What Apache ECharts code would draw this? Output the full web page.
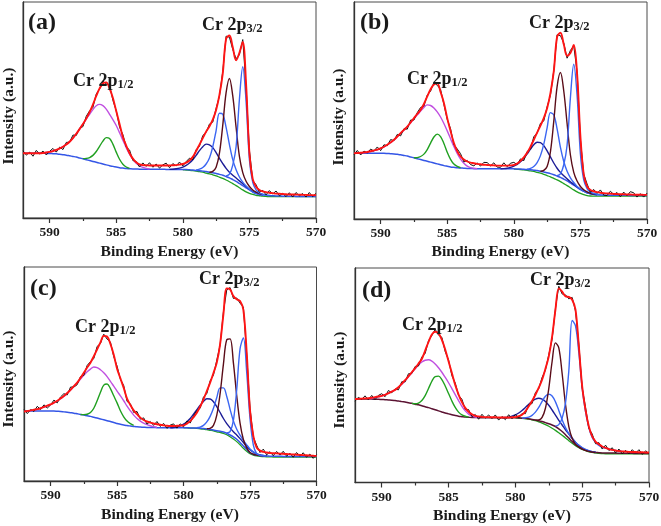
<!DOCTYPE html>
<html><head><meta charset="utf-8">
<script src="https://cdn.jsdelivr.net/npm/echarts@6/dist/echarts.min.js"></script>
<style>html,body{margin:0;padding:0;background:#fff}#c{width:661px;height:526px}</style>
</head><body><div id="c"></div>
<script>
const _ = null;
// Binding energy grid (eV), 592 -> 570, step 0.25
const energy = [
592,591.75,591.5,591.25, 591,590.75,590.5,590.25, 590,589.75,589.5,589.25,
589,588.75,588.5,588.25, 588,587.75,587.5,587.25, 587,586.75,586.5,586.25,
586,585.75,585.5,585.25, 585,584.75,584.5,584.25, 584,583.75,583.5,583.25,
583,582.75,582.5,582.25, 582,581.75,581.5,581.25, 581,580.75,580.5,580.25,
580,579.75,579.5,579.25, 579,578.75,578.5,578.25, 578,577.75,577.5,577.25,
577,576.75,576.5,576.25, 576,575.75,575.5,575.25, 575,574.75,574.5,574.25,
574,573.75,573.5,573.25, 573,572.75,572.5,572.25, 572,571.75,571.5,571.25,
571,570.75,570.5,570.25, 570];
const xTickValues = [570,575,580,585,590];
const xMinorTickValues = [572.5,577.5,582.5,587.5];

// ---------- Panel (a) ----------
const rawA = [
31.1,29.1,30.5,28.6, 31.3,29.6,31.0,29.2, 30.9,32.2,30.5,32.8, 31.7,35.0,35.1,38.4,
38.2,41.6,42.3,47.1, 49.6,51.2,57.4,59.7, 63.3,62.1,61.3,54.5, 49.7,42.1,38.6,32.9,
31.5,26.6,26.2,23.6, 25.5,23.9,25.6,23.5, 25.0,23.1,24.6,25.4, 23.3,25.2,24.1,25.9,
24.1,26.1,27.7,27.0, 31.6,33.2,38.2,39.6, 43.5,44.4,50.8,56.4, 67.9,84.2,83.7,78.0,
73.7,75.6,82.6,60.8, 31.4,17.4,15.4,11.9, 12.8,10.7,12.7,11.1, 12.5,10.3,11.4,9.9,
11.7,9.7,11.8,10.3, 11.3,9.7,11.8,9.9, 11.4];
const fitA = [
30.0,30.0,30.0,30.0, 30.0,30.0,30.1,30.3, 30.6,31.0,31.5,32.2, 33.0,34.0,35.3,37.0,
39.0,41.2,43.5,46.0, 49.0,52.5,56.5,60.0, 62.3,62.8,60.0,55.6, 49.5,43.5,37.5,33.5,
30.0,27.5,25.8,24.8, 24.5,24.4,24.3,24.3, 24.3,24.3,24.3,24.3, 24.3,24.4,24.5,24.7,
25.0,25.6,26.6,28.3, 31.0,34.0,37.0,40.0, 42.5,45.5,50.0,57.0, 67.0,83.0,84.5,79.0,
73.0,76.5,81.5,62.0, 30.0,18.0,14.5,13.0, 12.3,12.0,11.7,11.5, 11.3,11.2,11.1,11.0,
10.9,10.9,10.8,10.8, 10.7,10.7,10.6,10.6, 10.5];
const bgA = [
30.0,30.0,30.0,30.0, 30.0,30.0,30.0,29.9, 29.9,29.8,29.7,29.5, 29.3,29.1,28.8,28.5,
28.2,27.8,27.4,27.0, 26.6,26.2,25.8,25.4, 25.0,24.6,24.2,23.9, 23.6,23.3,23.1,22.9,
22.8,22.7,22.7,22.6, 22.6,22.6,22.6,22.6, 22.6,22.6,22.6,22.5, 22.5,22.5,22.5,22.4,
22.4,22.4,22.3,22.2, 22.0,21.9,21.7,21.5, 21.2,20.9,20.6,20.2, 19.8,19.2,18.6,17.8,
17.0,16.0,15.0,14.0, 13.0,12.2,11.5,11.1, 10.8,10.6,10.4,10.3, 10.2,10.2,10.1,10.1,
10.1,10.1,10.0,10.0, 10.0,10.0,10.0,10.0, 10.0];
const bg2A = [
_,_,_,_, _,_,_,_, _,_,_,_, _,_,_,_,
_,_,_,_, _,_,_,_, _,_,_,_, _,_,_,_,
_,_,_,_, _,_,_,_, _,_,_,_, _,_,_,_,
22.3,22.2,22.1,21.9, 21.7,21.5,21.2,20.8, 20.4,20.0,19.5,18.9, 18.3,17.6,16.8,15.9,
15.0,14.0,13.0,12.1, 11.4,10.9,10.5,10.3, 10.1,10.0,9.9,9.9, 9.9,9.9,9.9,9.9,
9.9,9.9,9.9,9.9, 9.9,9.9,9.9,9.9, 9.9];
const magA = [
_,_,_,_, 30.0,30.0,30.1,30.3, 30.6,31.0,31.5,32.2, 33.0,34.0,35.3,37.0,
39.0,41.2,43.5,45.8, 48.0,50.2,52.0,52.6, 52.0,50.4,48.0,45.5, 42.8,39.5,36.0,32.6,
29.6,27.2,25.4,24.2, 23.4,23.0,22.7,_, _,_,_,_, _,_,_,_,
_,_,_,_, _,_,_,_, _,_,_,_, _,_,_,_,
_,_,_,_, _,_,_,_, _,_,_,_, _,_,_,_,
_,_,_,_, _,_,_,_, _];
const greenA = [
_,_,_,_, _,_,_,_, _,_,_,_, _,_,_,_,
_,_,27.5,27.6, 28.0,29.0,30.8,33.2, 35.6,37.2,36.8,34.2, 30.5,27.2,24.9,23.6,
23.0,_,_,_, _,_,_,_, _,_,_,_, _,_,_,_,
_,_,_,_, _,_,_,_, _,_,_,_, _,_,_,_,
_,_,_,_, _,_,_,_, _,_,_,_, _,_,_,_,
_,_,_,_, _,_,_,_, _];
const navyA = [
_,_,_,_, _,_,_,_, _,_,_,_, _,_,_,_,
_,_,_,_, _,_,_,_, _,_,_,_, _,_,_,_,
_,_,_,_, _,_,_,_, _,_,_,_, 22.5,22.6,22.8,23.1,
23.6,24.4,25.5,27.0, 29.0,31.2,33.0,34.2, 33.9,32.6,30.3,27.6, 25.2,23.0,21.2,19.8,
18.5,17.2,15.9,14.6, 13.3,12.2,11.4,10.9, 10.6,_,_,_, _,_,_,_,
_,_,_,_, _,_,_,_, _];
const blueMidA = [
_,_,_,_, _,_,_,_, _,_,_,_, _,_,_,_,
_,_,_,_, _,_,_,_, _,_,_,_, _,_,_,_,
_,_,_,_, _,_,_,_, _,_,_,_, _,_,_,_,
_,_,_,_, 22.2,22.6,23.4,25.0, 27.8,33.0,40.5,48.5, 48.0,42.0,34.0,27.0,
22.3,19.0,16.6,14.8, 13.3,12.0,11.3,10.8, 10.5,_,_,_, _,_,_,_,
_,_,_,_, _,_,_,_, _];
const brownA = [
_,_,_,_, _,_,_,_, _,_,_,_, _,_,_,_,
_,_,_,_, _,_,_,_, _,_,_,_, _,_,_,_,
_,_,_,_, _,_,_,_, _,_,_,_, _,_,_,_,
_,_,_,_, _,_,_,_, 21.2,21.6,23.5,30.0, 43.0,58.0,64.6,56.5,
42.0,28.5,21.0,17.0, 14.6,13.0,12.0,11.3, 10.9,_,_,_, _,_,_,_,
_,_,_,_, _,_,_,_, _];
const blueRightA = [
_,_,_,_, _,_,_,_, _,_,_,_, _,_,_,_,
_,_,_,_, _,_,_,_, _,_,_,_, _,_,_,_,
_,_,_,_, _,_,_,_, _,_,_,_, _,_,_,_,
_,_,_,_, _,_,_,_, _,_,_,_, _,19.5,20.3,24.5,
33.0,55.0,70.0,54.0, 27.0,16.5,13.0,11.6, 11.0,10.6,10.4,_, _,_,_,_,
_,_,_,_, _,_,_,_, _];

// ---------- Panel (b) ----------
const rawB = [
29.6,31.6,29.5,31.3, 30.4,32.2,31.3,33.2, 31.5,34.2,33.8,36.6, 36.1,39.0,38.3,41.6,
41.4,45.6,45.6,49.0, 51.4,52.0,57.1,58.9, 63.0,61.6,59.7,52.8, 45.9,41.6,34.2,32.3,
30.1,26.3,27.0,25.1, 24.5,25.8,24.4,26.1, 26.0,24.5,25.9,23.9, 23.8,25.9,24.1,25.7,
26.1,25.1,27.7,26.9, 31.1,32.2,37.9,39.6, 44.1,45.2,51.7,57.0, 68.3,84.9,84.5,81.1,
74.1,77.7,79.8,67.8, 36.6,20.7,16.2,12.3, 13.6,11.8,13.4,11.0, 10.8,12.8,11.3,12.2,
10.2,12.4,10.7,12.6, 12.1,10.1,11.7,10.1, 11.9];
const fitB = [
30.3,30.4,30.5,30.7, 30.9,31.2,31.6,32.0, 32.6,33.3,34.2,35.3, 36.5,38.0,39.6,41.1,
42.6,44.5,46.5,48.4, 50.3,53.0,56.5,59.8, 62.0,62.5,58.5,53.5, 46.5,40.5,35.0,31.3,
28.8,27.4,26.5,26.0, 25.7,25.4,25.2,25.0, 24.9,24.8,24.7,24.6, 24.6,24.6,24.6,24.7,
24.9,25.5,26.8,28.4, 30.5,33.3,36.5,39.8, 43.0,46.5,51.0,58.0, 68.0,84.0,85.8,80.5,
75.2,76.5,80.2,67.0, 38.0,20.5,15.0,13.4, 12.8,12.4,12.1,11.9, 11.8,11.7,11.6,11.5,
11.4,11.4,11.3,11.3, 11.2,11.2,11.2,11.1, 11.1];
const bgB = [
30.3,30.3,30.3,30.3, 30.3,30.3,30.3,30.3, 30.3,30.3,30.2,30.1, 30.0,29.8,29.6,29.3,
29.0,28.6,28.2,27.8, 27.4,27.0,26.6,26.2, 25.8,25.4,25.0,24.6, 24.3,24.0,23.8,23.6,
23.5,23.4,23.3,23.3, 23.2,23.2,23.2,23.2, 23.2,23.2,23.1,23.1, 23.1,23.1,23.1,23.1,
23.1,23.0,23.0,22.9, 22.8,22.7,22.5,22.3, 22.0,21.7,21.3,20.9, 20.4,19.8,19.2,18.4,
17.6,16.6,15.6,14.6, 13.6,12.8,12.1,11.7, 11.4,11.2,11.1,11.0, 11.0,11.0,10.9,10.9,
10.9,10.9,10.9,10.8, 10.8,10.8,10.8,10.8, 10.8];
const bg2B = [
_,_,_,_, _,_,_,_, _,_,_,_, _,_,_,_,
_,_,_,_, _,_,_,_, _,_,_,_, _,_,_,_,
_,_,_,_, _,_,_,_, _,_,_,_, _,_,_,_,
23.0,22.9,22.8,22.6, 22.4,22.2,21.9,21.5, 21.1,20.6,20.0,19.4, 18.7,18.0,17.2,16.3,
15.4,14.4,13.4,12.5, 11.8,11.2,10.8,10.6, 10.5,10.5,10.5,10.5, 10.5,10.5,10.5,10.5,
10.5,10.5,10.5,10.5, 10.5,10.5,10.5,10.5, 10.5];
const magB = [
_,_,30.4,30.6, 30.8,31.1,31.5,31.9, 32.5,33.2,34.1,35.2, 36.4,37.9,39.5,41.0,
42.5,44.3,46.2,48.0, 49.7,51.4,52.6,52.3, 51.2,49.4,47.0,44.0, 40.6,37.0,33.4,30.2,
27.6,25.7,24.4,23.7, 23.4,23.2,_,_, _,_,_,_, _,_,_,_,
_,_,_,_, _,_,_,_, _,_,_,_, _,_,_,_,
_,_,_,_, _,_,_,_, _,_,_,_, _,_,_,_,
_,_,_,_, _,_,_,_, _];
const greenB = [
_,_,_,_, _,_,_,_, _,_,_,_, _,_,_,_,
_,_,28.2,28.3, 28.8,29.9,32.0,35.0, 37.8,39.1,38.0,34.8, 30.8,27.5,25.3,24.2,
23.6,_,_,_, _,_,_,_, _,_,_,_, _,_,_,_,
_,_,_,_, _,_,_,_, _,_,_,_, _,_,_,_,
_,_,_,_, _,_,_,_, _,_,_,_, _,_,_,_,
_,_,_,_, _,_,_,_, _];
const navyB = [
_,_,_,_, _,_,_,_, _,_,_,_, _,_,_,_,
_,_,_,_, _,_,_,_, _,_,_,_, _,_,_,_,
_,_,_,_, _,_,_,_, _,_,_,_, 23.1,23.2,23.4,23.8,
24.4,25.2,26.4,28.0, 30.0,32.2,34.2,35.4, 35.2,33.8,31.4,28.6, 25.8,23.4,21.5,19.9,
18.5,17.2,16.0,14.8, 13.8,12.9,12.2,11.7, 11.4,11.2,_,_, _,_,_,_,
_,_,_,_, _,_,_,_, _];
const blueMidB = [
_,_,_,_, _,_,_,_, _,_,_,_, _,_,_,_,
_,_,_,_, _,_,_,_, _,_,_,_, _,_,_,_,
_,_,_,_, _,_,_,_, _,_,_,_, _,_,_,_,
_,_,_,_, 22.9,23.3,24.2,26.0, 29.2,34.5,42.0,49.0, 48.0,41.5,33.0,26.5,
22.0,19.0,16.8,15.0, 13.8,12.8,12.1,11.6, 11.3,_,_,_, _,_,_,_,
_,_,_,_, _,_,_,_, _];
const brownB = [
_,_,_,_, _,_,_,_, _,_,_,_, _,_,_,_,
_,_,_,_, _,_,_,_, _,_,_,_, _,_,_,_,
_,_,_,_, _,_,_,_, _,_,_,_, _,_,_,_,
_,_,_,_, _,_,_,_, 22.0,22.4,24.2,31.0, 45.0,61.0,67.5,59.0,
44.0,29.5,21.5,17.5, 15.0,13.5,12.5,11.8, 11.4,_,_,_, _,_,_,_,
_,_,_,_, _,_,_,_, _];
const blueRightB = [
_,_,_,_, _,_,_,_, _,_,_,_, _,_,_,_,
_,_,_,_, _,_,_,_, _,_,_,_, _,_,_,_,
_,_,_,_, _,_,_,_, _,_,_,_, _,_,_,_,
_,_,_,_, _,_,_,_, _,_,_,_, _,20.0,20.8,25.0,
34.0,56.0,71.3,57.0, 30.0,18.0,14.0,12.5, 11.8,11.4,11.1,_, _,_,_,_,
_,_,_,_, _,_,_,_, _];

// ---------- Panel (c) ----------
const rawC = [
33.4,31.5,33.4,32.5, 34.9,33.4,35.6,34.1, 35.5,37.8,36.5,39.3, 40.8,40.2,43.9,43.9,
45.0,48.8,49.4,54.0, 55.8,57.2,62.9,64.2, 68.6,66.3,65.0,58.1, 53.7,47.5,44.6,37.2,
36.1,32.0,32.5,28.9, 29.5,26.6,27.8,26.0, 27.8,25.5,26.9,24.6, 26.1,26.7,24.7,26.7,
25.3,28.0,27.1,30.4, 32.9,34.0,39.3,40.8, 46.8,49.5,56.5,63.5, 79.1,89.3,90.4,85.3,
85.5,83.1,81.2,59.2, 34.0,20.5,16.7,13.3, 14.9,12.2,13.7,11.8, 13.8,12.1,13.9,11.6,
13.0,11.1,13.3,11.6, 13.2,11.1,12.6,10.6, 12.3];
const fitC = [
32.5,32.7,33.0,33.3, 33.6,34.0,34.6,35.2, 35.8,36.6,37.5,38.6, 39.7,41.1,42.6,44.3,
46.0,48.2,50.6,53.0, 55.3,58.3,61.5,64.8, 67.8,67.5,64.0,59.0, 52.5,48.0,43.5,38.5,
35.5,33.0,31.2,29.6, 28.5,27.8,27.3,26.9, 26.5,26.3,26.0,25.8, 25.7,25.7,25.8,25.9,
26.0,26.8,28.0,29.8, 31.9,34.8,38.2,42.0, 46.0,50.5,55.3,64.0, 78.0,90.0,89.5,86.4,
84.9,84.1,80.0,60.0, 33.0,21.0,15.6,14.2, 13.6,13.3,13.1,13.0, 12.9,12.8,12.7,12.6,
12.5,12.4,12.3,12.2, 12.1,12.0,11.9,11.8, 11.7];
const bgC = [
32.7,32.7,32.7,32.7, 32.7,32.7,32.7,32.7, 32.7,32.7,32.6,32.5, 32.3,32.1,31.9,31.7,
31.4,31.1,30.8,30.5, 30.2,29.8,29.4,29.0, 28.6,28.2,27.8,27.3, 26.9,26.5,26.2,25.9,
25.7,25.5,25.3,25.2, 25.1,25.0,25.0,25.0, 24.9,24.9,24.9,24.9, 24.9,24.9,24.9,24.9,
24.9,24.9,24.8,24.8, 24.8,24.7,24.5,24.3, 24.1,23.8,23.5,23.2, 22.9,22.3,21.5,20.6,
19.5,18.0,16.4,14.8, 13.2,12.5,12.1,11.9, 11.7,11.7,11.6,11.6, 11.6,11.6,11.5,11.5,
11.5,11.5,11.5,11.4, 11.4,11.4,11.4,11.4, 11.4];
const bg2C = [
_,_,_,_, _,_,_,_, _,_,_,_, _,_,_,_,
_,_,_,_, _,_,_,_, _,_,_,_, _,_,_,_,
_,_,_,_, _,_,_,_, _,_,_,_, _,_,_,_,
24.8,24.8,24.7,24.7, 24.6,24.4,24.2,24.0, 23.7,23.4,23.0,22.7, 22.3,21.6,20.7,19.6,
18.4,16.9,15.3,13.9, 12.8,12.1,11.7,11.5, 11.4,11.3,11.3,11.2, 11.2,11.2,11.2,11.2,
11.2,11.2,11.2,11.2, 11.2,11.2,11.2,11.2, 11.2];
const magC = [
_,32.7,32.9,33.2, 33.5,34.0,34.5,35.1, 35.7,36.5,37.4,38.5, 39.6,41.0,42.5,44.2,
45.8,47.6,49.4,51.0, 52.3,53.3,53.0,52.0, 50.6,48.8,46.6,44.3, 42.0,39.8,37.5,35.0,
32.8,30.8,29.2,28.0, 27.0,26.3,25.8,25.4, 25.1,_,_,_, _,_,_,_,
_,_,_,_, _,_,_,_, _,_,_,_, _,_,_,_,
_,_,_,_, _,_,_,_, _,_,_,_, _,_,_,_,
_,_,_,_, _,_,_,_, _];
const greenC = [
_,_,_,_, _,_,_,_, _,_,_,_, _,_,_,_,
_,31.1,31.0,31.2, 32.0,34.0,37.5,41.5, 44.8,45.3,43.2,39.8, 36.5,32.8,30.0,28.0,
26.8,26.0,_,_, _,_,_,_, _,_,_,_, _,_,_,_,
_,_,_,_, _,_,_,_, _,_,_,_, _,_,_,_,
_,_,_,_, _,_,_,_, _,_,_,_, _,_,_,_,
_,_,_,_, _,_,_,_, _];
const navyC = [
_,_,_,_, _,_,_,_, _,_,_,_, _,_,_,_,
_,_,_,_, _,_,_,_, _,_,_,_, _,_,_,_,
_,_,_,_, _,_,_,_, _,_,_,_, 24.9,25.0,25.3,25.8,
26.6,27.7,29.2,31.2, 33.3,35.4,37.2,38.4, 38.3,37.0,34.8,32.0, 29.2,26.8,24.8,23.0,
21.5,19.8,18.0,16.2, 14.6,13.5,12.7,12.2, 11.9,11.7,_,_, _,_,_,_,
_,_,_,_, _,_,_,_, _];
const blueMidC = [
_,_,_,_, _,_,_,_, _,_,_,_, _,_,_,_,
_,_,_,_, _,_,_,_, _,_,_,_, _,_,_,_,
_,_,_,_, _,_,_,_, _,_,_,_, _,_,_,_,
_,_,_,_, 24.9,25.2,26.0,27.6, 30.2,34.0,39.0,43.5, 43.5,39.5,33.5,28.0,
24.2,21.4,19.0,16.9, 15.0,13.6,12.7,12.2, 11.9,_,_,_, _,_,_,_,
_,_,_,_, _,_,_,_, _];
const brownC = [
_,_,_,_, _,_,_,_, _,_,_,_, _,_,_,_,
_,_,_,_, _,_,_,_, _,_,_,_, _,_,_,_,
_,_,_,_, _,_,_,_, _,_,_,_, _,_,_,_,
_,_,_,_, _,_,_,24.4, 24.6,26.0,30.8,40.8, 54.6,66.0,66.4,55.2,
39.8,27.0,19.4,15.5, 13.3,12.5,12.1,11.9, 11.7,_,_,_, _,_,_,_,
_,_,_,_, _,_,_,_, _];
const blueRightC = [
_,_,_,_, _,_,_,_, _,_,_,_, _,_,_,_,
_,_,_,_, _,_,_,_, _,_,_,_, _,_,_,_,
_,_,_,_, _,_,_,_, _,_,_,_, _,_,_,_,
_,_,_,_, _,_,_,_, _,_,_,_, _,22.5,23.1,28.3,
42.8,61.7,66.9,50.9, 29.1,16.8,12.8,12.0, 11.8,11.7,_,_, _,_,_,_,
_,_,_,_, _,_,_,_, _];

// ---------- Panel (d) ----------
const rawD = [
37.9,39.7,38.7,40.4, 38.5,40.6,38.6,40.6, 41.4,40.0,42.9,41.8, 43.6,43.2,47.0,46.9,
50.7,50.8,54.1,54.3, 58.5,60.2,66.1,68.5, 71.4,68.7,67.7,61.0, 57.2,49.8,46.4,40.6,
38.8,34.1,34.0,30.7, 31.7,29.5,31.8,30.0, 31.5,29.8,31.5,29.1, 30.8,29.3,31.6,29.7,
31.7,30.1,32.2,32.1, 36.4,36.8,41.9,43.8, 49.0,52.4,59.6,66.8, 81.2,91.5,87.9,87.5,
85.6,86.3,79.9,64.5, 44.2,35.1,25.2,22.6, 18.1,18.6,15.6,17.4, 14.9,16.2,13.8,15.6,
13.3,15.0,13.4,15.3, 13.7,15.3,13.1,14.8, 13.3];
const fitD = [
38.9,39.0,39.1,39.2, 39.3,39.5,39.8,40.1, 40.4,40.9,41.6,42.4, 43.2,44.4,46.0,47.7,
49.5,51.4,53.3,55.4, 57.6,61.5,65.5,69.0, 70.3,69.5,66.5,62.0, 56.5,51.0,45.5,41.0,
37.5,34.8,33.0,31.8, 31.1,30.8,30.6,30.5, 30.5,30.4,30.4,30.3, 30.3,30.3,30.3,30.4,
30.5,30.9,31.6,33.2, 35.5,38.0,40.9,44.2, 47.9,53.0,58.8,68.0, 80.6,90.5,89.0,86.8,
86.5,85.2,80.6,63.5, 44.8,33.9,26.1,21.5, 19.1,17.8,16.8,16.1, 15.6,15.2,14.9,14.7,
14.5,14.4,14.3,14.2, 14.2,14.1,14.1,14.0, 14.0];
const bgD = [
38.9,38.9,38.9,38.9, 38.9,38.9,38.8,38.8, 38.7,38.6,38.5,38.4, 38.2,38.0,37.7,37.5,
37.2,36.9,36.5,36.2, 35.8,35.3,34.9,34.4, 33.9,33.4,32.9,32.4, 32.0,31.6,31.2,30.9,
30.7,30.5,30.4,30.3, 30.3,30.2,30.2,30.2, 30.2,30.2,30.2,30.2, 30.2,30.2,30.2,30.2,
30.2,30.1,30.0,29.9, 29.7,29.4,29.1,28.8, 28.4,27.9,27.4,26.8, 26.1,25.0,23.8,22.3,
20.7,19.1,17.6,16.5, 15.6,15.0,14.5,14.2, 14.0,13.9,13.8,13.8, 13.7,13.7,13.7,13.6,
13.6,13.6,13.6,13.6, 13.5,13.5,13.5,13.5, 13.5];
const bg2D = [
_,_,_,_, _,_,_,_, _,_,_,_, _,_,_,_,
_,_,_,_, _,_,_,_, _,_,_,_, _,_,_,_,
_,_,_,_, _,_,_,_, _,_,_,_, _,_,_,_,
30.1,30.0,29.9,29.7, 29.5,29.2,28.8,28.3, 27.7,27.0,26.2,25.3, 24.3,23.2,22.0,20.8,
19.5,18.3,17.2,16.2, 15.4,14.8,14.3,14.0, 13.8,13.6,13.5,13.4, 13.4,13.4,13.4,13.4,
13.4,13.4,13.4,13.4, 13.4,13.4,13.4,13.4, 13.4];
const magD = [
_,_,_,_, 39.0,39.2,39.5,39.9, 40.4,40.9,41.6,42.4, 43.2,44.4,45.8,47.4,
49.3,51.2,53.0,54.8, 56.2,57.0,57.2,56.6, 55.3,53.5,51.4,49.0, 46.5,43.8,41.0,38.2,
35.5,33.4,31.9,31.0, 30.5,30.3,_,_, _,_,_,_, _,_,_,_,
_,_,_,_, _,_,_,_, _,_,_,_, _,_,_,_,
_,_,_,_, _,_,_,_, _,_,_,_, _,_,_,_,
_,_,_,_, _,_,_,_, _];
const greenD = [
_,_,_,_, _,_,_,_, _,_,_,_, _,_,_,_,
_,36.9,36.7,37.0, 38.2,40.5,43.8,47.2, 49.4,49.6,48.0,45.0, 41.5,38.0,35.0,32.8,
31.5,30.9,30.5,_, _,_,_,_, _,_,_,_, _,_,_,_,
_,_,_,_, _,_,_,_, _,_,_,_, _,_,_,_,
_,_,_,_, _,_,_,_, _,_,_,_, _,_,_,_,
_,_,_,_, _,_,_,_, _];
const navyD = [
_,_,_,_, _,_,_,_, _,_,_,_, _,_,_,_,
_,_,_,_, _,_,_,_, _,_,_,_, _,_,_,_,
_,_,_,_, _,_,_,_, _,_,_,_, 30.2,30.3,30.5,30.9,
31.5,32.4,33.6,35.0, 36.5,37.9,38.9,39.3, 38.9,37.8,36.0,33.8, 31.4,29.0,26.8,24.6,
22.6,20.6,18.8,17.3, 16.1,15.3,14.8,14.4, 14.2,_,_,_, _,_,_,_,
_,_,_,_, _,_,_,_, _];
const blueMidD = [
_,_,_,_, _,_,_,_, _,_,_,_, _,_,_,_,
_,_,_,_, _,_,_,_, _,_,_,_, _,_,_,_,
_,_,_,_, _,_,_,_, _,_,_,_, _,_,_,_,
_,_,30.1,30.2, 30.5,31.3,32.8,35.0, 37.8,40.2,41.2,40.3, 37.6,33.6,29.3,25.6,
22.8,20.6,18.8,17.4, 16.3,15.4,14.8,14.4, 14.2,_,_,_, _,_,_,_,
_,_,_,_, _,_,_,_, _];
const brownD = [
_,_,_,_, _,_,_,_, _,_,_,_, _,_,_,_,
_,_,_,_, _,_,_,_, _,_,_,_, _,_,_,_,
_,_,_,_, _,_,_,_, _,_,_,_, _,_,_,_,
_,_,_,_, _,_,29.1,29.2, 30.4,34.6,43.8,56.4, 65.1,62.8,50.8,36.4,
26.1,20.6,17.9,16.6, 15.7,15.0,14.5,14.2, 14.0,_,_,_, _,_,_,_,
_,_,_,_, _,_,_,_, _];
const blueRightD = [
_,_,_,_, _,_,_,_, _,_,_,_, _,_,_,_,
_,_,_,_, _,_,_,_, _,_,_,_, _,_,_,_,
_,_,_,_, _,_,_,_, _,_,_,_, _,_,_,_,
_,_,_,_, _,_,_,_, _,_,_,_, 26.3,27.0,30.0,37.0,
52.0,75.5,73.0,60.5, 44.0,33.0,25.5,21.0, 18.6,17.3,16.5,16.0, 15.6,15.2,14.9,14.7,
14.5,_,_,_, _,_,_,_, _];

// ---------- styling / layout ----------
const SERIF = '"Liberation Serif","Times New Roman",serif';
const C = {
  red:'#ff1414', raw:'#111111', mag:'#c04fe0', green:'#20a020', navy:'#1c1c96',
  blue:'#3b66f2', bgBlue:'#3456e6', brown:'#5a0c18', maroon:'#5b1232', axis:'#333333', text:'#1a1a1a'
};
const PANELS = [
  {grid:{left:23,top:2,width:293,height:216}, tag:'(a)', tagPos:[28,23], p12:[73,81], p32:[202,25], yName:[9,116], xName:[169.5,251.5],
   raw:rawA, fit:fitA, bg:bgA, bgColor:C.bgBlue, bg2:bg2A, mag:magA, grn:greenA, navy:navyA, mid:blueMidA, brown:brownA, right:blueRightA},
  {grid:{left:354,top:2,width:293,height:217}, tag:'(b)', tagPos:[360,23], p12:[407,79], p32:[529,23], yName:[339,117], xName:[500.5,251.5],
   raw:rawB, fit:fitB, bg:bgB, bgColor:C.bgBlue, bg2:bg2B, mag:magB, grn:greenB, navy:navyB, mid:blueMidB, brown:brownB, right:blueRightB},
  {grid:{left:24,top:267,width:292.5,height:214}, tag:'(c)', tagPos:[30,289], p12:[75,327], p32:[199,279], yName:[9,379], xName:[170,514.5],
   raw:rawC, fit:fitC, bg:bgC, bgColor:C.bgBlue, bg2:bg2C, mag:magC, grn:greenC, navy:navyC, mid:blueMidC, brown:brownC, right:blueRightC},
  {grid:{left:355,top:268,width:294,height:214.5}, tag:'(d)', tagPos:[362,291], p12:[402,325], p32:[530,280], yName:[340,380], xName:[502,515.5],
   raw:rawD, fit:fitD, bg:bgD, bgColor:C.maroon, bg2:bg2D, mag:magD, grn:greenD, navy:navyD, mid:blueMidD, brown:brownD, right:blueRightD}
];

function pts(arr, name){
  if (arr.length !== energy.length) console.error('length mismatch', name, arr.length);
  return energy.map((e,i)=>[e, arr[i]]);
}
function line(k, data, color, width, smooth, z){
  return {type:'line', xAxisIndex:k*2, yAxisIndex:k, data, showSymbol:false, symbol:'none',
    smooth: smooth, connectNulls:false, silent:true, z:z,
    lineStyle:{color, width}, itemStyle:{color}, emphasis:{disabled:true}};
}

const grids=[], xAxes=[], yAxes=[], series=[], graphics=[];
PANELS.forEach((p,k)=>{
  grids.push(Object.assign({show:true, borderColor:'#4a4a4a', borderWidth:1, containLabel:false, outerBoundsMode:'none'}, p.grid));
  xAxes.push({gridIndex:k, type:'value', min:570, max:592, inverse:true, position:'bottom',
    axisLine:{show:true, onZero:false, lineStyle:{color:C.axis, width:1.3}},
    axisTick:{show:true, inside:false, length:5, customValues:xTickValues, lineStyle:{color:C.axis, width:1.2}},
    axisLabel:{show:true, customValues:xTickValues, margin:8, fontFamily:SERIF, fontWeight:'bold', fontSize:13.5, color:C.text},
    splitLine:{show:false}, minorTick:{show:false}});
  xAxes.push({gridIndex:k, type:'value', min:570, max:592, inverse:true, position:'bottom',
    axisLine:{show:false, onZero:false},
    axisTick:{show:true, inside:false, length:3, customValues:xMinorTickValues, lineStyle:{color:C.axis, width:1.2}},
    axisLabel:{show:false}, splitLine:{show:false}});
  yAxes.push({gridIndex:k, type:'value', min:0, max:100,
    axisLine:{show:true, onZero:false, lineStyle:{color:C.axis, width:1.3}},
    axisTick:{show:false}, axisLabel:{show:false}, splitLine:{show:false}});

  series.push(line(k, pts(p.bg2,'bg2'), C.green, 1.3, 0.3, 2));
  series.push(line(k, pts(p.bg,'bg'), p.bgColor, 1.5, 0.3, 3));
  series.push(line(k, pts(p.mag,'mag'), C.mag, 1.4, 0.35, 4));
  series.push(line(k, pts(p.grn,'grn'), C.green, 1.4, 0.35, 4));
  series.push(line(k, pts(p.navy,'navy'), C.navy, 1.4, 0.35, 4));
  series.push(line(k, pts(p.mid,'mid'), C.blue, 1.4, 0.35, 4));
  series.push(line(k, pts(p.brown,'brown'), C.brown, 1.4, 0.35, 5));
  series.push(line(k, pts(p.right,'right'), C.blue, 1.4, 0.35, 5));
  series.push(line(k, pts(p.raw,'raw'), C.raw, 1.0, false, 6));
  series.push(line(k, pts(p.fit,'fit'), C.red, 1.9, 0.35, 7));

  graphics.push({type:'text', x:p.tagPos[0], y:p.tagPos[1], z:100,
    style:{text:p.tag, font:'bold 24px '+SERIF, fill:C.text, align:'left', verticalAlign:'middle'}});
  const rich = {
    m:{fontFamily:SERIF, fontWeight:'bold', fontSize:18, lineHeight:20, fill:C.text, color:C.text},
    s:{fontFamily:SERIF, fontWeight:'bold', fontSize:12.5, lineHeight:12.5, verticalAlign:'bottom', fill:C.text, color:C.text}
  };
  graphics.push({type:'text', x:p.p12[0], y:p.p12[1], z:100,
    style:{text:'{m|Cr 2p}{s|1/2}', rich, align:'left', verticalAlign:'middle'}});
  graphics.push({type:'text', x:p.p32[0], y:p.p32[1], z:100,
    style:{text:'{m|Cr 2p}{s|3/2}', rich, align:'left', verticalAlign:'middle'}});
  graphics.push({type:'text', x:p.yName[0], y:p.yName[1], rotation:Math.PI/2, z:100,
    style:{text:'Intensity (a.u.)', font:'bold 15.5px '+SERIF, fill:C.text, align:'center', verticalAlign:'middle'}});
  graphics.push({type:'text', x:p.xName[0], y:p.xName[1], z:100,
    style:{text:'Binding Energy (eV)', font:'bold 15.6px '+SERIF, fill:C.text, align:'center', verticalAlign:'middle'}});
});

const chart = echarts.init(document.getElementById('c'), null, {renderer:'canvas'});
chart.setOption({
  animation:false,
  backgroundColor:'#ffffff',
  grid:grids, xAxis:xAxes, yAxis:yAxes, series, graphic:graphics
});
</script>
</body></html>
